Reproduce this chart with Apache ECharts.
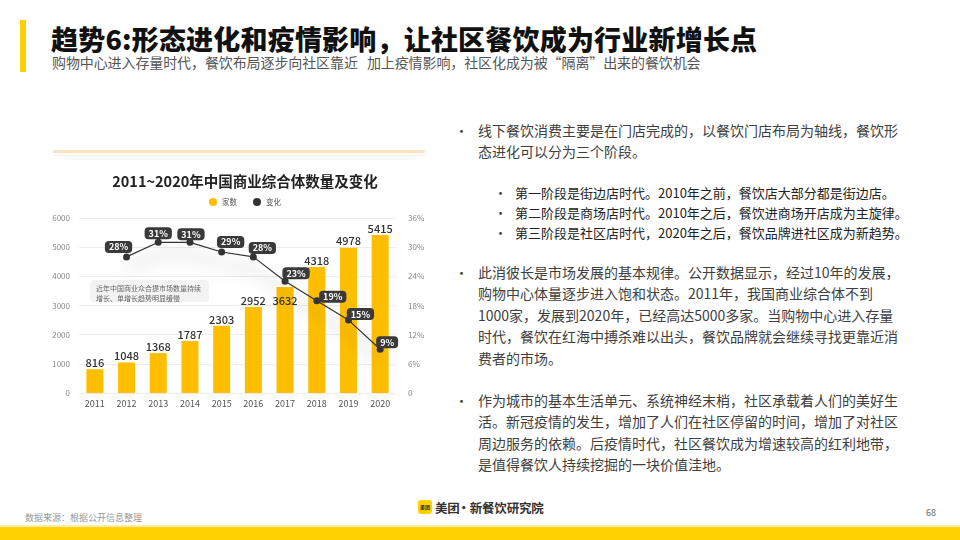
<!DOCTYPE html>
<html>
<head>
<meta charset="utf-8">
<script src="https://cdn.jsdelivr.net/npm/echarts@6/dist/echarts.min.js"></script>
<style>
  html, body { margin: 0; padding: 0; }
  body { width: 960px; height: 540px; position: relative; overflow: hidden; background: #fff;
         font-family: "Noto Sans CJK SC", "Noto Sans", sans-serif; }
  .abs { position: absolute; white-space: nowrap; }
  #chart { position: absolute; left: 40px; top: 140px; width: 410px; height: 275px; }
  .p { position: absolute; left: 478px; font-size: 14px; line-height: 21.4px; color: #404040; white-space: nowrap; }
  .b { position: absolute; font-size: 13px; color: #404040; }
  .s { position: absolute; left: 515px; font-size: 13px; line-height: 20px; color: #222; white-space: nowrap; }
</style>
</head>
<body>
<div class="abs" style="left:20px;top:20px;width:6px;height:52px;background:#FFD100;"></div>
<div class="abs" style="left:51px;top:21px;font-size:27px;font-weight:900;color:#111;line-height:36px;letter-spacing:0.2px;">趋势6:形态进化和疫情影响，让社区餐饮成为行业新增长点</div>
<div class="abs" style="left:52px;top:53px;font-size:14px;color:#555;line-height:18px;letter-spacing:-0.1px;">购物中心进入存量时代，餐饮布局逐步向社区靠近&nbsp;&nbsp;&nbsp;加上疫情影响，社区化成为被“隔离”出来的餐饮机会</div>

<div class="abs" style="left:53px;top:150px;width:372px;height:3px;background:#FDE3C2;"></div>
<div class="abs" style="left:53px;top:155px;width:372px;height:1px;background:#FEEEDD;"></div>

<div id="chart"></div>

<div class="b" style="left:455px;top:120px;line-height:21.4px;">•</div>
<div class="p" style="top:120px;">线下餐饮消费主要是在门店完成的，以餐饮门店布局为轴线，餐饮形<br>态进化可以分为三个阶段。</div>

<div class="b" style="left:494px;top:183px;line-height:20px;">•<br>•<br>•</div>
<div class="s" style="top:183px;">第一阶段是街边店时代。2010年之前，餐饮店大部分都是街边店。<br>第二阶段是商场店时代。2010年之后，餐饮进商场开店成为主旋律。<br>第三阶段是社区店时代，2020年之后，餐饮品牌进社区成为新趋势。</div>

<div class="b" style="left:455px;top:262px;line-height:21.4px;">•</div>
<div class="p" style="top:262px;">此消彼长是市场发展的基本规律。公开数据显示，经过10年的发展，<br>购物中心体量逐步进入饱和状态。2011年，我国商业综合体不到<br>1000家，发展到2020年，已经高达5000多家。当购物中心进入存量<br>时代，餐饮在红海中搏杀难以出头，餐饮品牌就会继续寻找更靠近消<br>费者的市场。</div>

<div class="b" style="left:455px;top:390px;line-height:21.4px;">•</div>
<div class="p" style="top:390px;">作为城市的基本生活单元、系统神经末梢，社区承载着人们的美好生<br>活。新冠疫情的发生，增加了人们在社区停留的时间，增加了对社区<br>周边服务的依赖。后疫情时代，社区餐饮成为增速较高的红利地带，<br>是值得餐饮人持续挖掘的一块价值洼地。</div>

<div class="abs" style="left:25px;top:511px;font-size:9px;color:#999;line-height:14px;">数据来源：根据公开信息整理</div>
<div class="abs" style="left:418px;top:500px;width:14px;height:14px;border-radius:3px;background:#FFD100;font-size:5px;line-height:14px;text-align:center;color:#222;font-weight:bold;">美团</div>
<div class="abs" style="left:435px;top:499px;font-size:12.5px;font-weight:bold;color:#333;line-height:18px;letter-spacing:-0.2px;">美团<span style="letter-spacing:-3px;margin-left:-2px;">·</span>&nbsp;新餐饮研究院</div>
<div class="abs" style="left:926px;top:506px;font-size:9px;color:#666;line-height:14px;">68</div>
<div class="abs" style="left:0;top:525px;width:960px;height:2px;background:#FFEFA0;"></div>
<div class="abs" style="left:0;top:527px;width:960px;height:13px;background:#FFD200;"></div>

<script>
const years = ['2011','2012','2013','2014','2015','2016','2017','2018','2019','2020'];
const counts = [816, 1048, 1368, 1787, 2303, 2952, 3632, 4318, 4978, 5415];
const growth = [null, 28, 31, 31, 29, 28, 23, 19, 15, 9];
const leftTicks = { min: 0, max: 6000, interval: 1000 };
const rightTicks = { min: 0, max: 36, interval: 6 };
const chartTitle = '2011~2020年中国商业综合体数量及变化';
const seriesNames = ['家数', '变化'];
const noteText = '近年中国商业众合提市场数量持续\n增长、单增长趋势明显缓慢';

const labelOffsets = [[0,0],[-8,-10],[0,-9],[1,-8],[9,-10],[9,-9],[11,-8],[16,-4],[12,-6],[7,-7]];

const chart = echarts.init(document.getElementById('chart'));
const barData = counts.map((v, i) => i === 6
  ? { value: v, label: { position: 'insideTop', distance: 8 } }
  : v);
const lineData = growth.map((v, i) => v === null ? '-' : { value: v, label: { offset: labelOffsets[i] } });

chart.setOption({
  animation: false,
  textStyle: { fontFamily: '"Noto Sans CJK SC", "Noto Sans", sans-serif' },
  title: {
    text: chartTitle, left: 'center', top: 29,
    textStyle: { fontSize: 14.5, fontWeight: 'bold', color: '#222' }
  },
  legend: {
    top: 53, left: 'center', itemWidth: 8, itemHeight: 8, itemGap: 16,
    textStyle: { fontSize: 7.5, color: '#555' },
    data: [
      { name: seriesNames[0], icon: 'circle', itemStyle: { color: '#FFBF00' } },
      { name: seriesNames[1], icon: 'circle', itemStyle: { color: '#333' } }
    ]
  },
  grid: { left: 39, right: 54, top: 78, bottom: 22 },
  xAxis: {
    type: 'category', data: years,
    axisLine: { show: false }, axisTick: { show: false },
    axisLabel: { fontSize: 9, color: '#555', margin: 6 }
  },
  yAxis: [
    {
      type: 'value', min: leftTicks.min, max: leftTicks.max, interval: leftTicks.interval,
      axisLine: { show: false }, axisTick: { show: false },
      axisLabel: { fontSize: 8, color: '#888', margin: 9, formatter: v => String(v) },
      splitLine: { lineStyle: { color: '#ececec', width: 1 } }
    },
    {
      type: 'value', min: rightTicks.min, max: rightTicks.max, interval: rightTicks.interval,
      axisLine: { show: false }, axisTick: { show: false },
      axisLabel: { fontSize: 8, color: '#888', margin: 12, formatter: v => v === 0 ? '0' : v + '%' },
      splitLine: { show: false }
    }
  ],
  graphic: [
    {
      type: 'rect', left: 50, top: 140, shape: { width: 119, height: 22, r: 4 },
      style: { fill: '#f3f3f3' }, z: 1
    },
    {
      type: 'text', left: 56, top: 143, z: 2,
      style: { text: noteText, fontSize: 7, lineHeight: 10.5, fill: '#666',
               fontFamily: '"Noto Sans CJK SC", sans-serif' }
    }
  ],
  series: [
    {
      name: seriesNames[0], type: 'bar', data: barData, barWidth: 17,
      itemStyle: { color: '#FFBF00' },
      label: { show: true, position: 'top', distance: 1, fontSize: 11, fontWeight: 500, color: '#333' },
      z: 2
    },
    {
      name: seriesNames[1], type: 'line', yAxisIndex: 1, data: lineData,
      symbol: 'circle', symbolSize: 7, showSymbol: true,
      itemStyle: { color: '#333' },
      lineStyle: { color: '#333', width: 1.2, shadowBlur: 18, shadowColor: 'rgba(0,0,0,0.6)', shadowOffsetY: 12 },
      label: {
        show: true, position: 'inside', formatter: '{c}%',
        color: '#fff', fontSize: 9, fontWeight: 'bold',
        backgroundColor: '#3a3a3a', borderRadius: 4, padding: [2, 4, 1, 4]
      },
      z: 5
    }
  ]
});
</script>
</body>
</html>
